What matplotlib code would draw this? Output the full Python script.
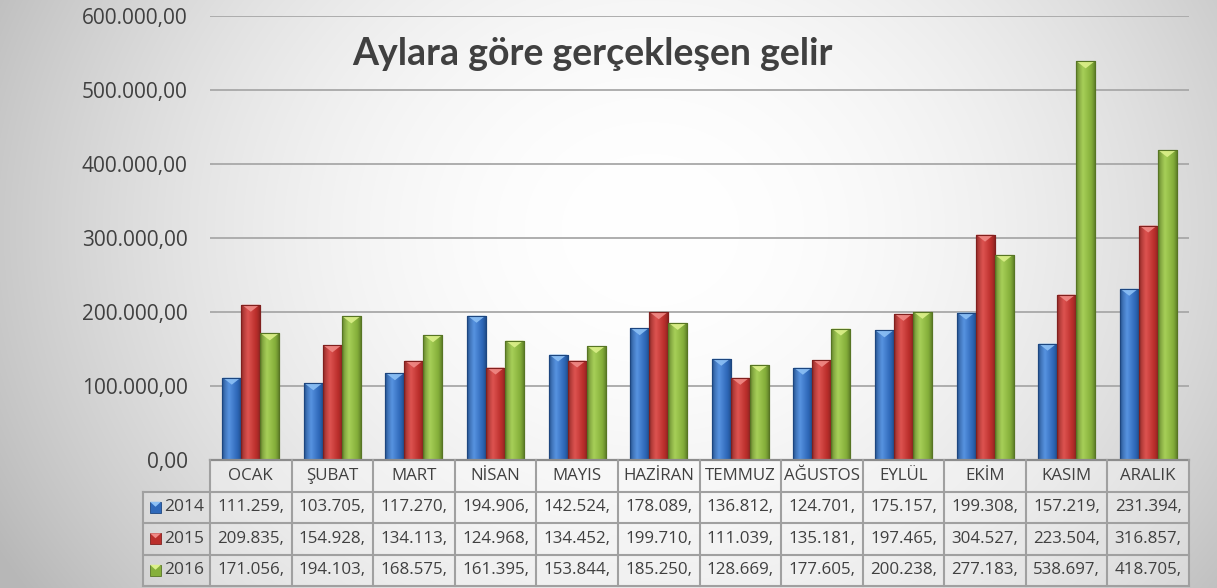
import numpy as np
import matplotlib
matplotlib.use("Agg")
import matplotlib.pyplot as plt
from matplotlib.patches import Rectangle, Polygon
from matplotlib.colors import to_rgb
from matplotlib.transforms import blended_transform_factory

plt.rcParams['font.family'] = ['Open Sans', 'DejaVu Sans']

# ---------------- data ----------------
title = "Aylara göre gerçekleşen gelir"
months = ["OCAK", "ŞUBAT", "MART", "NİSAN", "MAYIS", "HAZİRAN",
          "TEMMUZ", "AĞUSTOS", "EYLÜL", "EKİM", "KASIM", "ARALIK"]
series_names = ["2014", "2015", "2016"]
v2014 = [111259, 103705, 117270, 194906, 142524, 178089,
         136812, 124701, 175157, 199308, 157219, 231394]
v2015 = [209835, 154928, 134113, 124968, 134452, 199710,
         111039, 135181, 197465, 304527, 223504, 316857]
v2016 = [171056, 194103, 168575, 161395, 153844, 185250,
         128669, 177605, 200238, 277183, 538697, 418705]
y_ticks = [0, 100000, 200000, 300000, 400000, 500000, 600000]

series = [v2014, v2015, v2016]
# base, edge, highlight, bevel-top colours
styles = [
    ("#2f69ba", "#1d467f", "#5793e0", "#8cc0f5"),
    ("#bb2f2c", "#80201e", "#dd5350", "#f08a86"),
    ("#86b03b", "#577524", "#a7cf58", "#dcf08a"),
]

W, H, DPI = 1217, 588, 100
fig = plt.figure(figsize=(W / DPI, H / DPI), dpi=DPI)

# ---------------- background radial gradient ----------------
bg = fig.add_axes([0, 0, 1, 1], zorder=-10)
yy, xx = np.mgrid[0:H, 0:W]
r2 = ((xx - 650) / 650.0) ** 2 + ((yy - 230) / 560.0) ** 2
g = np.clip(1.0 - 0.21 * r2, 0.72, 1.0)
bg.imshow(np.dstack([g, g, g]), extent=(0, W, 0, H), origin='upper', aspect='auto')
bg.set_xlim(0, W)
bg.set_ylim(0, H)
bg.axis('off')


def tr_num(v, dec=2):
    s = f"{v:,.{dec}f}"
    return s.replace(',', 'X').replace('.', ',').replace('X', '.')


# ---------------- main axes ----------------
L, R, T, B = 210, 1189, 16, 460
ax = fig.add_axes([L / W, (H - B) / H, (R - L) / W, (B - T) / H])
ax.set_facecolor('none')
n = len(months)
x = np.arange(n)
ax.set_xlim(-0.5, n - 0.5)
ax.set_ylim(0, 600000)
ax.set_yticks(y_ticks)
ax.set_yticklabels([tr_num(v) for v in y_ticks], fontsize=15, color='#404040')
ax.tick_params(axis='y', length=0, pad=16)
ax.set_xticks([])
for s in ax.spines.values():
    s.set_visible(False)
ax.grid(axis='y', color='#a8a8a8', lw=1.3, zorder=0)
ax.set_axisbelow(True)

bw = 0.233
ax_h_px = (B - T)
data_per_px = 600000 / ax_h_px
ax_w_px = (R - L)
xdata_per_px = n / ax_w_px

for i, (vals, (base, edge, hi, top)) in enumerate(zip(series, styles)):
    bars = ax.bar(x + (i - 1) * bw, vals, width=bw, color=base, edgecolor=edge,
                  lw=0.8, zorder=3)
    cb, ce, ch = np.array(to_rgb(base)), np.array(to_rgb(edge)), np.array(to_rgb(hi))
    t = np.linspace(0, 1, 40)
    prof = []
    for tv in t:
        if tv < 0.35:
            c = ce + (ch - ce) * (tv / 0.35) ** 0.6
        elif tv < 0.75:
            c = ch + (cb - ch) * ((tv - 0.35) / 0.4)
        else:
            c = cb + (ce - cb) * ((tv - 0.75) / 0.25) ** 1.3
        prof.append(c)
    grad = np.array(prof)[None, :, :]
    for p in bars:
        x0, w, h = p.get_x(), p.get_width(), p.get_height()
        im = ax.imshow(grad, extent=(x0, x0 + w, 0, h), aspect='auto',
                       zorder=3.5, interpolation='bilinear')
        im.set_clip_path(p)
        dh = 7 * data_per_px
        tri = Polygon([(x0 + 0.03 * w, h), (x0 + 0.97 * w, h), (x0 + w / 2, h - dh)],
                      closed=True, facecolor=top, edgecolor='none', alpha=0.9, zorder=4)
        ax.add_patch(tri)
        ax.add_patch(Rectangle((x0, 0), w, h, fill=False, edgecolor=edge, lw=0.8, zorder=4.5))

ax.set_xlim(-0.5, n - 0.5)
ax.set_ylim(0, 600000)

# ---------------- data table ----------------
trans = blended_transform_factory(ax.transData, ax.transAxes)
row_h = 31.5 / ax_h_px
lab_left = -0.5 - (L - 143) * xdata_per_px
line_c = '#a0a0a0'
txt_c = '#404040'

for r in range(4):
    y0 = -(r + 1) * row_h
    for c in range(n):
        ax.add_patch(Rectangle((c - 0.5, y0), 1, row_h, transform=trans, clip_on=False,
                               facecolor='white', alpha=0.35, edgecolor='none', zorder=1))
    if r > 0:
        ax.add_patch(Rectangle((lab_left, y0), -0.5 - lab_left, row_h, transform=trans,
                               clip_on=False, facecolor='white', alpha=0.2,
                               edgecolor='none', zorder=1))

ax.plot([-0.5, n - 0.5], [0, 0], transform=trans, clip_on=False, color='#8c8c8c', lw=1.6, zorder=5)
for r in range(1, 5):
    ax.plot([lab_left, n - 0.5], [-r * row_h, -r * row_h], transform=trans,
            clip_on=False, color=line_c, lw=1.5, zorder=5)
for c in range(n + 1):
    ax.plot([c - 0.5, c - 0.5], [0, -4 * row_h], transform=trans, clip_on=False,
            color=line_c, lw=1.5, zorder=5)
ax.plot([lab_left, lab_left], [-row_h, -4 * row_h], transform=trans, clip_on=False,
        color=line_c, lw=1.5, zorder=5)

for c, m in enumerate(months):
    ax.text(c, -0.5 * row_h, m, transform=trans, ha='center', va='center',
            fontsize=12.2, color=txt_c, clip_on=False)
for r, vals in enumerate(series):
    yc = -(r + 1.5) * row_h
    for c, v in enumerate(vals):
        ax.text(c, yc, f"{v:,}".replace(',', '.') + ",", transform=trans, ha='center',
                va='center', fontsize=12.2, color=txt_c, clip_on=False)
    key_w = 11 * xdata_per_px
    kx = lab_left + 7 * xdata_per_px
    base, edge, hi, top = styles[r]
    ax.add_patch(Rectangle((kx, yc - 5.5 / ax_h_px), key_w, 11 / ax_h_px, transform=trans,
                           clip_on=False, facecolor=base, edgecolor=edge, lw=0.6, zorder=6))
    ax.add_patch(Polygon([(kx, yc + 5.5 / ax_h_px), (kx + key_w, yc + 5.5 / ax_h_px),
                          (kx + key_w / 2, yc + 0.5 / ax_h_px)], closed=True,
                         transform=trans, clip_on=False, facecolor=top, edgecolor='none',
                         zorder=6.5))
    ax.text(kx + key_w + 3 * xdata_per_px, yc, series_names[r], transform=trans,
            ha='left', va='center', fontsize=12.5, color=txt_c, clip_on=False)

# ---------------- title ----------------
fig.text(592 / W, 1 - 54 / H, title, ha='center', va='center', fontsize=27,
         fontweight='bold', color='#404040', family=['Lato', 'DejaVu Sans'])

fig.savefig("out.png", dpi=DPI)
